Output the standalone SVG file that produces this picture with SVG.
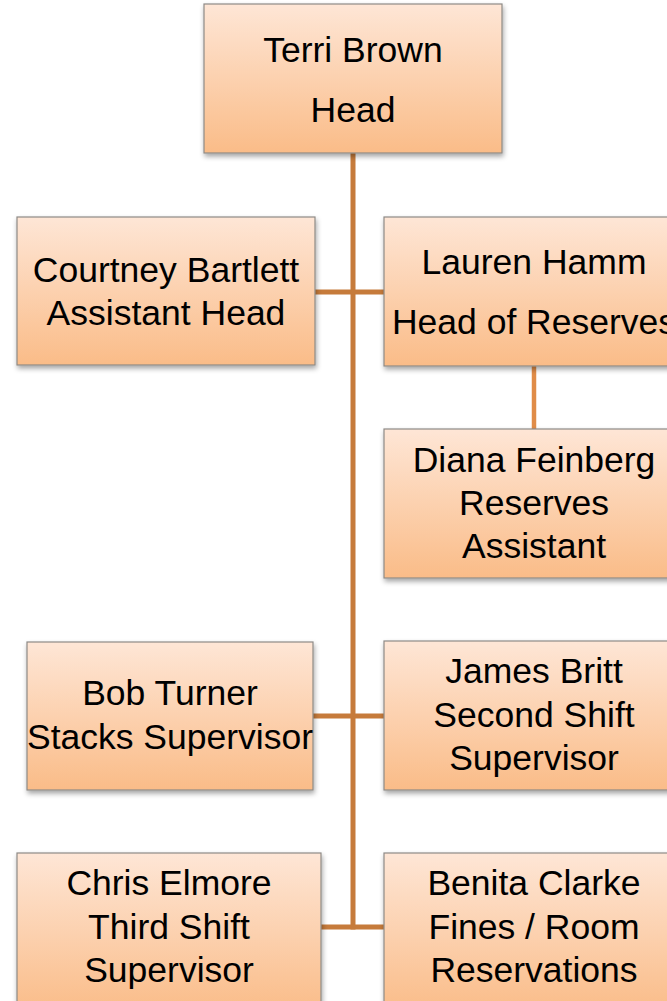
<svg xmlns="http://www.w3.org/2000/svg" width="667" height="1001" viewBox="0 0 667 1001">
<defs>
<linearGradient id="g" x1="0" y1="0" x2="0" y2="1">
<stop offset="0" stop-color="#FEE6D6"/>
<stop offset="1" stop-color="#FABC88"/>
</linearGradient>
<filter id="sh" x="-10%" y="-10%" width="125%" height="130%">
<feDropShadow dx="1" dy="3" stdDeviation="2.5" flood-color="#000" flood-opacity="0.35"/>
</filter>
</defs>
<style>
.box{fill:url(#g);stroke:#8E8A86;stroke-width:1.2;filter:url(#sh)}
.t{font-family:"Liberation Sans",Arial,sans-serif;font-size:35.5px;fill:#000;text-anchor:middle}
.trunk{stroke:#C67B3B;stroke-width:5;fill:none}
.sub{stroke:#E08C48;stroke-width:4.5;fill:none}
</style>
<g id="connectors">
<line class="trunk" x1="353" y1="153" x2="353" y2="929.5"/>
<line class="trunk" x1="315" y1="292" x2="384" y2="292"/>
<line class="trunk" x1="313" y1="716" x2="384" y2="716"/>
<line class="trunk" x1="321" y1="927" x2="384" y2="927"/>
<line class="sub" x1="534" y1="366" x2="534" y2="429"/>
</g>
<g id="terri">
<rect class="box" x="204" y="4" width="298" height="149"/>
<text class="t" x="353" y="62">Terri Brown</text>
<text class="t" x="353" y="122">Head</text>
</g>
<g id="courtney">
<rect class="box" x="17" y="217" width="298" height="148"/>
<text class="t" x="166" y="282">Courtney Bartlett</text>
<text class="t" x="166" y="325">Assistant Head</text>
</g>
<g id="lauren">
<rect class="box" x="384" y="217" width="300" height="149"/>
<text class="t" x="534" y="274">Lauren Hamm</text>
<text class="t" x="534" y="334">Head of Reserves</text>
</g>
<g id="diana">
<rect class="box" x="384" y="429" width="300" height="149"/>
<text class="t" x="534" y="472">Diana Feinberg</text>
<text class="t" x="534" y="515">Reserves</text>
<text class="t" x="534" y="558">Assistant</text>
</g>
<g id="bob">
<rect class="box" x="27" y="642" width="286" height="148"/>
<text class="t" x="170" y="705">Bob Turner</text>
<text class="t" x="170" y="749">Stacks Supervisor</text>
</g>
<g id="james">
<rect class="box" x="384" y="641" width="300" height="149"/>
<text class="t" x="534" y="683">James Britt</text>
<text class="t" x="534" y="727">Second Shift</text>
<text class="t" x="534" y="770">Supervisor</text>
</g>
<g id="chris">
<rect class="box" x="17" y="853" width="304" height="160"/>
<text class="t" x="169" y="895">Chris Elmore</text>
<text class="t" x="169" y="939">Third Shift</text>
<text class="t" x="169" y="982">Supervisor</text>
</g>
<g id="benita">
<rect class="box" x="384" y="853" width="300" height="160"/>
<text class="t" x="534" y="895">Benita Clarke</text>
<text class="t" x="534" y="939">Fines / Room</text>
<text class="t" x="534" y="982">Reservations</text>
</g>
</svg>
